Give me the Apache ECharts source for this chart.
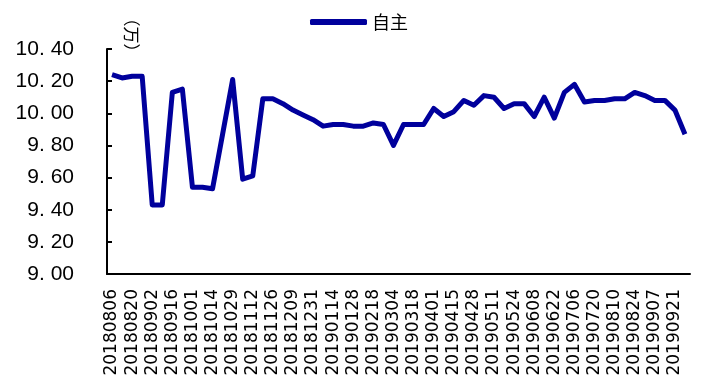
<!DOCTYPE html>
<html>
<head>
<meta charset="utf-8">
<script src="https://cdn.jsdelivr.net/npm/echarts@6/dist/echarts.min.js"></script>
<style>
html,body{margin:0;padding:0;background:#fff;}
#chart{width:704px;height:391px;}
</style>
</head>
<body>
<div id="chart"></div>
<script>
// 日期（每周）
var dates = [
	'20180806','20180813','20180820','20180827','20180902','20180909','20180916','20180923',
	'20181001','20181008','20181014','20181021','20181029','20181105','20181112','20181119',
	'20181126','20181202','20181209','20181223','20181231','20190107','20190114','20190121',
	'20190128','20190211','20190218','20190225','20190304','20190311','20190318','20190325',
	'20190401','20190408','20190415','20190421','20190428','20190505','20190511','20190517',
	'20190524','20190601','20190608','20190615','20190622','20190629','20190706','20190713',
	'20190720','20190727','20190810','20190817','20190824','20190831','20190907','20190914',
	'20190921','20190928'
];
// 自主（万）
var ziZhu = [
	10.24,10.22,10.23,10.23,9.43,9.43,10.13,10.15,
	9.54,9.54,9.53,9.87,10.21,9.59,9.61,10.09,
	10.09,10.06,10.02,9.99,9.96,9.92,9.93,9.93,
	9.92,9.92,9.94,9.93,9.80,9.93,9.93,9.93,
	10.03,9.98,10.01,10.08,10.05,10.11,10.10,10.03,
	10.06,10.06,9.98,10.10,9.97,10.13,10.18,10.07,
	10.08,10.08,10.09,10.09,10.13,10.11,10.08,10.08,
	10.02,9.87
];
var yMin = 9.0, yMax = 10.4, yStep = 0.2;

var myChart = echarts.init(document.getElementById('chart'));
var option = {
	animation: false,
	legend: {
		data: ['自主'],
		top: 8,
		left: 305,
		itemWidth: 57,
		itemHeight: 6,
		itemGap: 7,
		icon: 'roundRect',
		textStyle: {
			fontFamily: 'Noto Sans CJK SC',
			fontSize: 18,
			color: '#000'
		}
	},
	grid: {
		left: 107,
		right: 14,
		top: 49,
		bottom: 117
	},
	xAxis: {
		type: 'category',
		data: dates,
		boundaryGap: true,
		axisLine: {lineStyle: {color: '#000', width: 2}},
		axisTick: {
			inside: true,
			interval: 1,
			length: 5,
			lineStyle: {color: '#000', width: 2}
		},
		axisLabel: {
			interval: 1,
			rotate: 90,
			fontFamily: 'DejaVu Sans',
			fontSize: 17,
			color: '#000',
			margin: 15
		}
	},
	yAxis: {
		type: 'value',
		min: yMin,
		max: yMax,
		interval: yStep,
		axisLine: {show: true, lineStyle: {color: '#000', width: 2}},
		axisTick: {
			show: true,
			inside: true,
			length: 5,
			lineStyle: {color: '#000', width: 2}
		},
		splitLine: {show: false},
		axisLabel: {
			fontFamily: 'Liberation Sans',
			fontSize: 21,
			color: '#000',
			margin: 33,
			formatter: function (v) {
				return v.toFixed(2).replace('.', '. ');
			}
		}
	},
	graphic: [{
		type: 'text',
		x: 131,
		y: 35,
		rotation: -Math.PI / 2,
		style: {
			text: '（万）',
			fontFamily: 'Noto Sans CJK SC',
			fontSize: 17,
			fill: '#000',
			align: 'center',
			verticalAlign: 'middle'
		}
	}],
	series: [{
		name: '自主',
		type: 'line',
		data: ziZhu,
		symbol: 'none',
		lineStyle: {color: '#00009C', width: 5, join: 'round'},
		itemStyle: {color: '#00009C'}
	}]
};
myChart.setOption(option);
</script>
</body>
</html>
